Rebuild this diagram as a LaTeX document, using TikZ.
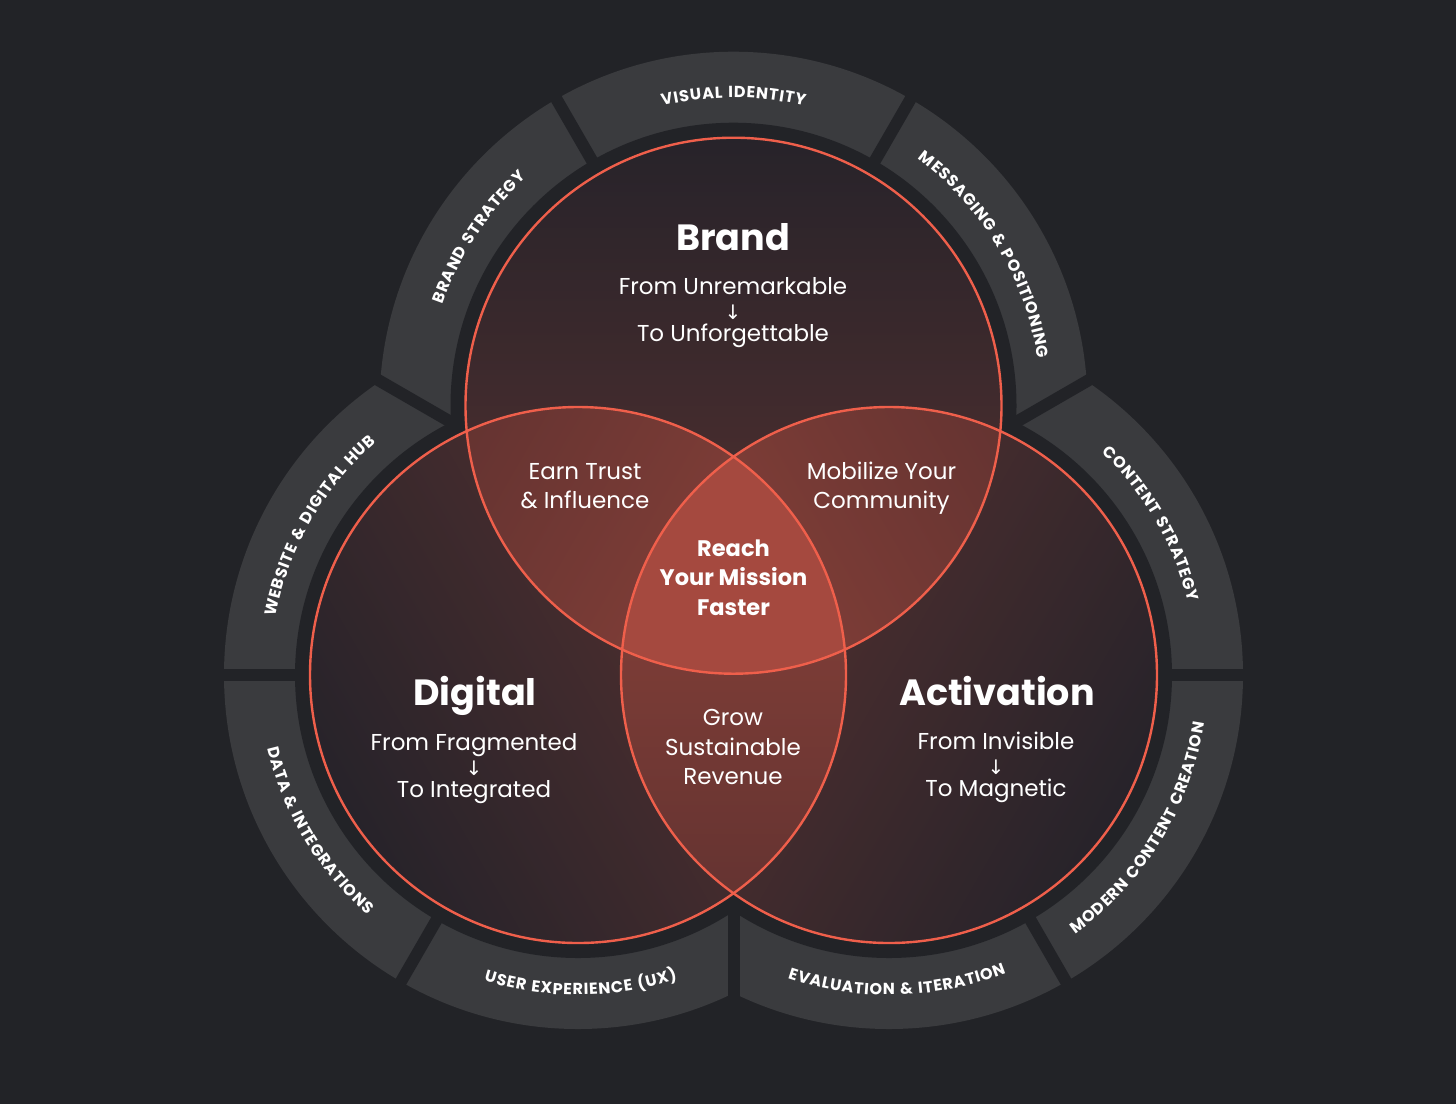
\documentclass[tikz,border=0pt]{standalone}
\usepackage{fontspec}
\setmainfont{Poppins}
\newfontfamily\arrowfont{DejaVu Sans}
\usetikzlibrary{decorations.text}
\newcommand\lk{{\kern0.8pt}}
\newcommand\lsp{{\kern5.5pt}}

\definecolor{bgc}{HTML}{222327}
\definecolor{ringc}{HTML}{3A3B3E}
\definecolor{strokec}{HTML}{EF5F4B}
\definecolor{farc}{HTML}{27232A}
\definecolor{nearc}{HTML}{5A3230}
\definecolor{lensfar}{HTML}{643331}
\definecolor{lensnear}{HTML}{8E433A}
\definecolor{centerc}{HTML}{A5493F}

\begin{document}
\begin{tikzpicture}[x=1pt,y=1pt,
  gapline/.style={bgc, line width=12pt},
  venn/.style={strokec, line width=2.4pt},
  head/.style={text=white, font=\fontsize{36.5}{40}\selectfont\bfseries, anchor=base, inner sep=0pt},
  sub/.style={text=white, font=\fontsize{23}{26}\selectfont, anchor=base, inner sep=0pt},
  arr/.style={text=white, font=\arrowfont\fontsize{20}{22}\selectfont, anchor=center, inner sep=0pt},
  lenstext/.style={text=white, font=\fontsize{23}{26}\selectfont, anchor=base, inner sep=0pt},
  core/.style={text=white, font=\fontsize{22.5}{26}\selectfont\bfseries, anchor=base, inner sep=0pt},
  ringlabel/.style={decorate, decoration={text along path, text align=center, text color=white,
     text={|\bfseries\fontsize{16}{18}\selectfont|#1}}}
]
\fill[bgc] (0,0) rectangle (1456,-1104);
\useasboundingbox (0,0) rectangle (1456,-1104);

\coordinate (B) at (733.5,-405.7);
\coordinate (D) at (578,-675);
\coordinate (A) at (889,-675);
\coordinate (G) at (733.5,-585.2);
\coordinate (MBD) at (655.75,-540.35);
\coordinate (MBA) at (811.25,-540.35);
\coordinate (MDA) at (733.5,-675);

% outer ring
\fill[ringc] (B) circle (354) (D) circle (354) (A) circle (354);
\fill[bgc] (B) circle (283) (D) circle (283) (A) circle (283);
\foreach \c/\a in {B/60,B/120,D/180,D/240,A/300,A/0}
  \draw[gapline] (\c) ++(\a:270) -- ++(\a:100);
\foreach \a in {30,150,270}
  \draw[gapline] (G) ++(\a:300) -- ++(\a:140);

% circle fills
\shade[top color=farc, bottom color=nearc] (B) circle (268);
\shade[top color=farc, bottom color=nearc, shading angle=120] (D) circle (268);
\shade[top color=farc, bottom color=nearc, shading angle=240] (A) circle (268);

% lenses
\begin{scope}
  \clip (B) circle (268); \clip (D) circle (268);
  \shade[top color=lensfar, bottom color=lensnear, shading angle=60] (MBD) +(-230,-230) rectangle +(230,230);
\end{scope}
\begin{scope}
  \clip (B) circle (268); \clip (A) circle (268);
  \shade[top color=lensfar, bottom color=lensnear, shading angle=-60] (MBA) +(-230,-230) rectangle +(230,230);
\end{scope}
\begin{scope}
  \clip (D) circle (268); \clip (A) circle (268);
  \shade[top color=lensfar, bottom color=lensnear, shading angle=180] (MDA) +(-230,-230) rectangle +(230,230);
\end{scope}
\begin{scope}
  \clip (B) circle (268); \clip (D) circle (268); \clip (A) circle (268);
  \fill[centerc] (G) circle (200);
\end{scope}

% strokes
\draw[venn] (B) circle (268);
\draw[venn] (D) circle (268);
\draw[venn] (A) circle (268);

% ring labels
\path[ringlabel={B\lk R\lk A\lk N\lk D\lsp S\lk T\lk R\lk A\lk T\lk E\lk G\lk Y}]
  (B) ++(176.5:308) arc[start angle=176.5, end angle=116.5, radius=308];
\path[ringlabel={V\lk I\lk S\lk U\lk A\lk L\lsp I\lk D\lk E\lk N\lk T\lk I\lk T\lk Y}]
  (B) ++(120:308) arc[start angle=120, end angle=60, radius=308];
\path[ringlabel={M\lk E\lk S\lk S\lk A\lk G\lk I\lk N\lk G\lsp{\&}\lsp P\lk O\lk S\lk I\lk T\lk I\lk O\lk N\lk I\lk N\lk G}]
  (B) ++(61:308) arc[start angle=61, end angle=1, radius=308];
\path[ringlabel={W\lk E\lk B\lk S\lk I\lk T\lk E\lsp{\&}\lsp D\lk I\lk G\lk I\lk T\lk A\lk L\lsp H\lk U\lk B}]
  (D) ++(180:308) arc[start angle=180, end angle=120, radius=308];
\path[ringlabel={C\lk O\lk N\lk T\lk E\lk N\lk T\lsp S\lk T\lk R\lk A\lk T\lk E\lk G\lk Y}]
  (A) ++(60:308) arc[start angle=60, end angle=0, radius=308];
\path[ringlabel={D\lk A\lk T\lk A\lsp{\&}\lsp I\lk N\lk T\lk E\lk G\lk R\lk A\lk T\lk I\lk O\lk N\lk S}]
  (D) ++(181:319) arc[start angle=181, end angle=241, radius=319];
\path[ringlabel={U\lk S\lk E\lk R\lsp E\lk X\lk P\lk E\lk R\lk I\lk E\lk N\lk C\lk E\lsp(\lk U\lk X\lk )}]
  (D) ++(240.5:320) arc[start angle=240.5, end angle=300.5, radius=320];
\path[ringlabel={E\lk V\lk A\lk L\lk U\lk A\lk T\lk I\lk O\lk N\lsp{\&}\lsp I\lk T\lk E\lk R\lk A\lk T\lk I\lk O\lk N}]
  (A) ++(241.5:320) arc[start angle=241.5, end angle=301.5, radius=320];
\path[ringlabel={M\lk O\lk D\lk E\lk R\lk N\lsp C\lk O\lk N\lk T\lk E\lk N\lk T\lsp C\lk R\lk E\lk A\lk T\lk I\lk O\lk N}]
  (A) ++(298.5:319) arc[start angle=298.5, end angle=358.5, radius=319];

% Brand
\node[head] (brandh) at (733,-250.7) {Brand};
\node[sub] (brand1) at (733,-294.3) {From Unremarkable};
\node[arr] (brandarr) at (733,-312) {↓};
\node[sub] (brand2) at (733,-341.7) {To Unforgettable};
% Digital
\node[head] (digh) at (475,-705.7) {Digital};
\node[sub] (dig1) at (474,-750.7) {From Fragmented};
\node[arr] (digarr) at (474,-768) {↓};
\node[sub] (dig2) at (474,-797.3) {To Integrated};
% Activation
\node[head] (acth) at (997,-705) {Activation};
\node[sub] (act1) at (996,-749.3) {From Invisible};
\node[arr] (actarr) at (996,-767) {↓};
\node[sub] (act2) at (996,-796.7) {To Magnetic};
% lenses
\node[lenstext] (earn1) at (585,-479) {Earn Trust};
\node[lenstext] (earn2) at (585,-508.5) {\& Influence};
\node[lenstext] (mob1) at (881.5,-479) {Mobilize Your};
\node[lenstext] (mob2) at (881.5,-508.5) {Community};
\node[lenstext] (grow1) at (733,-725) {Grow};
\node[lenstext] (grow2) at (733,-755) {Sustainable};
\node[lenstext] (grow3) at (733,-784) {Revenue};
% center
\node[core] (reach1) at (733.5,-556) {Reach};
\node[core] (reach2) at (733.5,-585.5) {Your Mission};
\node[core] (reach3) at (733.5,-615.5) {Faster};
\end{tikzpicture}
\end{document}
